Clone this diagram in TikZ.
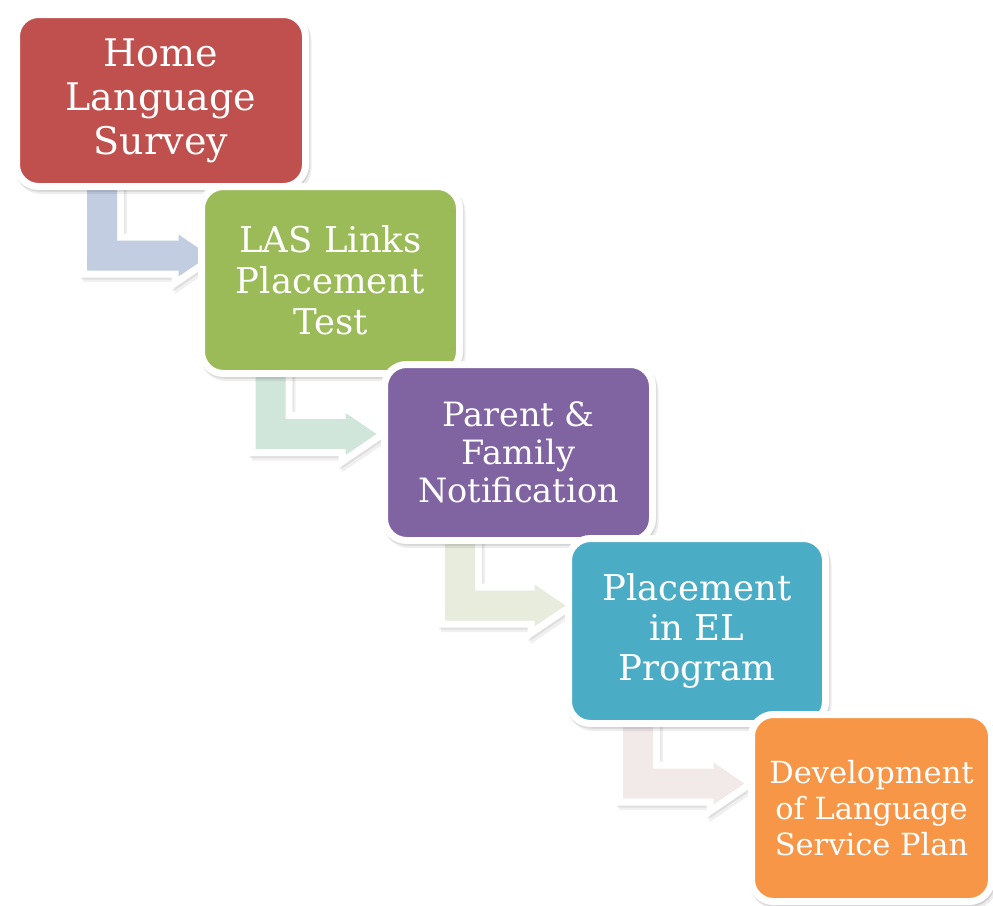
\documentclass[tikz,border=0pt]{standalone}
\usepackage{fontspec}
\setmainfont{DejaVu Serif}
\usetikzlibrary{calc,backgrounds}
\definecolor{cRed}{HTML}{C0504D}
\definecolor{cGreen}{HTML}{9BBB59}
\definecolor{cPurple}{HTML}{8064A2}
\definecolor{cTeal}{HTML}{4BACC6}
\definecolor{cOrange}{HTML}{F79646}
\definecolor{aBlue}{HTML}{C3CDE2}
\definecolor{aMint}{HTML}{D0E6DB}
\definecolor{aLime}{HTML}{E7ECDD}
\definecolor{aRose}{HTML}{F2E9E9}
\newcommand\bentarrow[3]{%
  \path[arrowbody, fill=#3] let \p1=(#1), \p2=(#2) in
    (\x1-15pt,\y1) -- (\x1-15pt,\y2-15pt) -- (\x2-31pt,\y2-15pt) -- (\x2-31pt,\y2-21pt)
    -- (\x2,\y2) -- (\x2-31pt,\y2+21pt) -- (\x2-31pt,\y2+15pt) -- (\x1+15pt,\y2+15pt)
    -- (\x1+15pt,\y1) -- cycle;}
\begin{document}
\begin{tikzpicture}[x=1pt,y=-1pt,
  box/.style={rounded corners=22pt, draw=white, line width=7pt, text=white,
    align=center, inner sep=0pt,
    preaction={draw=black, fill=black, opacity=0.07, line width=7pt,
      transform canvas={xshift=2.5pt,yshift=-4pt}},
    preaction={draw=black, fill=black, opacity=0.08, line width=7pt,
      transform canvas={xshift=1pt,yshift=-1.8pt}}},
  arrowbody/.style={line join=miter,
    preaction={draw=black, fill=black, opacity=0.06, line width=14pt, line join=miter,
      transform canvas={xshift=3pt,yshift=-4.5pt}},
    preaction={draw=black, fill=black, opacity=0.07, line width=14pt, line join=miter,
      transform canvas={xshift=1.2pt,yshift=-2pt}},
    preaction={draw=white, line width=14pt, line join=miter}}
  ]
\useasboundingbox (0,0) rectangle (993,905);

\node[box, fill=cRed, minimum width=289, minimum height=172,
  font=\fontsize{38}{44}\selectfont] (b1) at (161,100.5) {Home\\Language\\Survey};
\node[box, fill=cGreen, minimum width=258, minimum height=187,
  font=\fontsize{35.5}{41}\selectfont] (b2) at (330.5,280) {LAS Links\\Placement\\Test};
\node[box, fill=cPurple, minimum width=268, minimum height=176,
  font=\fontsize{33.5}{38}\selectfont] (b3) at (518.5,452.5) {Parent \&\\Family\\Notification};
\node[box, fill=cTeal, minimum width=257, minimum height=185,
  font=\fontsize{35.5}{40}\selectfont] (b4) at (697,631) {Placement\\in EL\\Program};
\node[box, fill=cOrange, minimum width=240, minimum height=187,
  font=\fontsize{30.5}{36}\selectfont] (b5) at (871.5,808) {Development\\of Language\\Service Plan};

\begin{scope}[on background layer]
  \fill[white] (0,0) rectangle (993,905);
  \coordinate (a1s) at ($(b1.south west)+(89,-20)$);
  \coordinate (a1e) at ($(b2.west)+(11.5,-24.5)$);
  \bentarrow{a1s}{a1e}{aBlue}
  \coordinate (a2s) at ($(b2.south west)+(72.5,-20)$);
  \coordinate (a2e) at ($(b3.west)+(-4.5,-18.5)$);
  \bentarrow{a2s}{a2e}{aMint}
  \coordinate (a3s) at ($(b3.south west)+(79,-20)$);
  \coordinate (a3e) at ($(b4.west)+(0.5,-25.5)$);
  \bentarrow{a3s}{a3e}{aLime}
  \coordinate (a4s) at ($(b4.south west)+(73,-20)$);
  \coordinate (a4e) at ($(b5.west)+(-3.5,-24.5)$);
  \bentarrow{a4s}{a4e}{aRose}
\end{scope}
\end{tikzpicture}
\end{document}
